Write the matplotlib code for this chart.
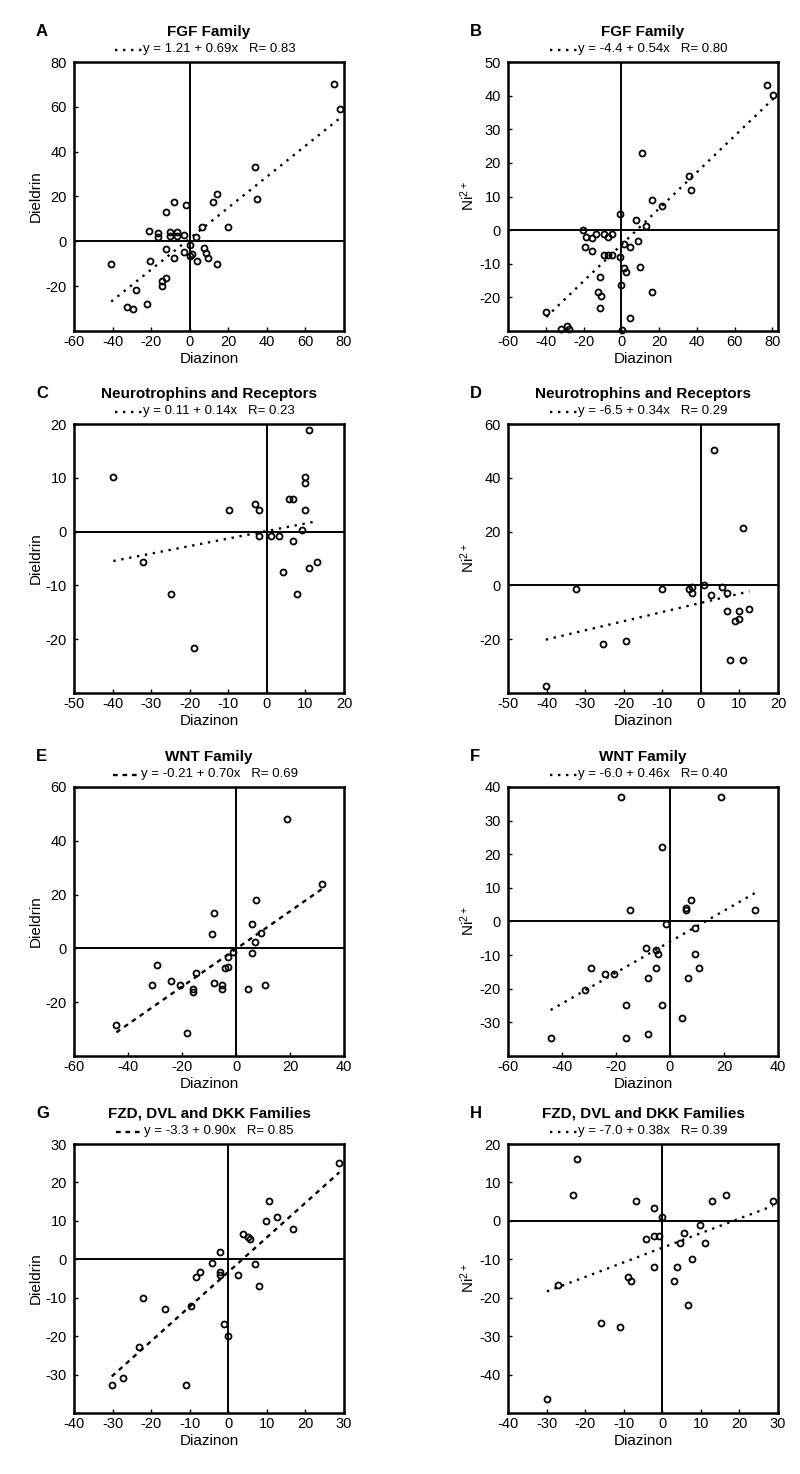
import numpy as np
import matplotlib.pyplot as plt
from matplotlib.lines import Line2D

plt.rcParams['font.family'] = ['Liberation Sans', 'DejaVu Sans']
plt.rcParams['mathtext.fontset'] = 'custom'
plt.rcParams['mathtext.rm'] = 'Liberation Sans'
plt.rcParams['mathtext.it'] = 'Liberation Sans:italic'
plt.rcParams['mathtext.default'] = 'regular'
plt.rcParams['axes.unicode_minus'] = False

# A - FGF family, dieldrin vs diazinon
a_x = [75, 78, 34, 14.3, 35, 12, -8, -12.5, -2, 20, 6.5, -21, -16.5, -16.5, -10.4, -10.4,
       -6.4, -6.4, -3, 3.4, -12.5, 0.1, 7.4, 8.3, 9.6, 1.3, 0.1, -3, -8.2, 3.6, 14.3,
       -40.7, -20.8, -12.5, -14.2, -14.5, -28, -22, -32.4, -29.3]
a_y = [70, 59, 33, 21, 19, 17.4, 17.4, 12.9, 16.3, 6.4, 6.4, 4.6, 3.9, 1.9, 4.3, 2.3,
       4.3, 2.3, 2.8, 1.9, -3.6, -1.8, -2.8, -5.4, -7.3, -5.5, -6.6, -4.6, -7.3, -8.8, -10,
       -10, -8.8, -16.3, -17.8, -20, -21.9, -27.9, -29.1, -30.1]

# B - FGF family, Ni2+ vs diazinon
b_x = [77.2, 80.6, 10.9, 35.6, 36.7, 16.2, 21.7, -0.9, 7.9, 13.2, -20.3, -18.9, -15.6,
       -13.2, -9.2, -7.1, -5.0, 8.8, 4.4, 1.7, -19, -15.6, -9.2, -7.1, -5.0, -0.9, 9.7,
       1.7, 2.6, -11.5, -12.4, -10.6, -11.5, -0.4, 16.2, -39.7, 4.4, -31.7, -28.6, -27.7, 0.5]
b_y = [43.1, 40.1, 22.9, 16.2, 11.9, 9.0, 7.3, 4.8, 3.0, 1.1, 0, -1.9, -2.2,
       -1.2, -1.2, -2.0, -1.3, -3.2, -5.0, -4.2, -5.0, -6.2, -7.4, -7.4, -7.4, -8.0, -11,
       -11.2, -12.4, -13.9, -18.3, -19.5, -23.1, -16.4, -18.3, -24.3, -26.1, -29.3, -28.6, -29.3, -29.6]

# C - neurotrophins and receptors, dieldrin vs diazinon
c_x = [11.0, -39.8, 9.9, 9.9, 5.8, 6.9, -3.1, -9.9, -2.0, 9.9, 9.1, -2.0, 1.2, 3.2,
       6.9, -32, 13.1, 11.0, 4.1, -24.9, 7.8, -19.0]
c_y = [18.9, 10.1, 10.1, 9.1, 6.1, 6.1, 5.1, 4.1, 4.1, 4.1, 0.3, -0.9, -0.9, -0.9,
       -1.8, -5.7, -5.7, -6.8, -7.6, -11.6, -11.6, -21.6]

# D - neurotrophins and receptors, Ni2+ vs diazinon
d_x = [3.5, 10.8, -32.3, -10.1, -3.2, -2.2, -2.2, 0.9, 2.6, 5.6, 6.8, 6.8, 9.8, 12.6,
       8.8, 9.8, -25.4, -19.3, 7.6, 10.8, -40.2]
d_y = [50.5, 21.3, -1.2, -1.2, -1.2, -0.6, -2.8, 0.2, -3.5, -0.6, -2.8, -9.5, -9.5, -8.9,
       -13.2, -12.4, -21.7, -20.8, -27.6, -27.6, -37.4]

# E - WNT family, dieldrin vs diazinon
e_x = [18.8, 31.7, 7.5, -8.2, 6.1, -9.0, 9.2, 6.9, 6.1, -1.1, -3.0, -29.2, -3.0, -4.1,
       -15.0, -23.9, -8.2, -5.3, -5.3, -20.9, -31.1, -16.0, -16.0, 4.6, 10.6, -44.3, -18.1]
e_y = [48.0, 24.0, 17.9, 13.0, 9.0, 5.2, 5.9, 2.2, -1.6, -1.5, -3.1, -6.2, -6.8, -7.4,
       -9.0, -12.0, -12.7, -13.6, -15.2, -13.6, -13.6, -15.2, -16.1, -15.1, -13.6, -28.6, -31.6]

# F - WNT family, Ni2+ vs diazinon
f_x = [-18.0, 18.8, -3.0, -14.9, 6.0, 6.0, 7.7, 31.6, -1.6, 9.1, -9.0, -5.3, -4.4, 9.1,
       -29.1, -5.3, 10.6, -24.0, -20.9, -8.1, 6.7, -31.6, -16.4, -3.0, 4.6, -8.1, -44.2, -16.4]
f_y = [36.9, 36.9, 22.1, 3.5, 4.0, 3.3, 6.5, 3.5, -0.7, -1.9, -7.8, -8.5, -9.6, -9.6,
       -13.9, -13.9, -13.9, -15.7, -15.7, -16.8, -16.8, -20.4, -24.7, -24.7, -28.8, -33.6, -34.6, -34.6]

# G - FZD, DVL and DKK families, dieldrin vs diazinon
g_x = [28.8, 10.6, 12.6, 9.8, 16.9, 3.7, 5.0, 5.7, -2.2, -4.2, 6.9, -7.3, -2.2, -2.2,
       2.6, -8.4, 7.9, -22.1, -9.6, -16.4, -1.2, -0.2, -23.1, -27.2, -30.2, -11.0]
g_y = [25.0, 15.1, 10.9, 9.9, 7.8, 6.7, 5.9, 5.2, 2.0, -1.0, -1.1, -3.2, -3.2, -4.1,
       -4.1, -4.7, -6.9, -10.1, -12.1, -12.9, -16.8, -20.0, -22.8, -31.0, -32.8, -32.8]

# H - FZD, DVL and DKK families, Ni2+ vs diazinon
h_x = [-22.0, -23.1, -6.9, -2.1, 0, 13.0, 16.6, 28.7, 9.9, 5.7, -2.1, -0.9, -4.3, 4.5,
       11.0, 7.7, -2.1, 3.8, -9.0, -8.0, 3.1, -27.0, 6.7, -16.0, -11.0, -29.9]
h_y = [16.0, 6.8, 5.2, 3.3, 1.1, 5.2, 6.8, 5.2, -1.0, -3.1, -3.9, -3.9, -4.6, -5.8,
       -5.8, -9.9, -11.9, -11.9, -14.5, -15.6, -15.6, -16.7, -21.9, -26.6, -27.6, -46.4]

letters = ['A', 'B', 'C', 'D', 'E', 'F', 'G', 'H']
titles = ['FGF Family', 'FGF Family',
          'Neurotrophins and Receptors', 'Neurotrophins and Receptors',
          'WNT Family', 'WNT Family',
          'FZD, DVL and DKK Families', 'FZD, DVL and DKK Families']
intercepts = [1.21, -4.4, 0.11, -6.5, -0.21, -6.0, -3.3, -7.0]
slopes = [0.69, 0.54, 0.14, 0.34, 0.70, 0.46, 0.90, 0.38]
eq_texts = ['y = 1.21 + 0.69x   R= 0.83', 'y = -4.4 + 0.54x   R= 0.80',
            'y = 0.11 + 0.14x   R= 0.23', 'y = -6.5 + 0.34x   R= 0.29',
            'y = -0.21 + 0.70x   R= 0.69', 'y = -6.0 + 0.46x   R= 0.40',
            'y = -3.3 + 0.90x   R= 0.85', 'y = -7.0 + 0.38x   R= 0.39']
ylabels = ['Dieldrin', 'Ni$^{2+}$'] * 4
xlims = [(-60, 80), (-60, 83), (-50, 20), (-50, 20),
         (-60, 40), (-60, 40), (-40, 30), (-40, 30)]
ylims = [(-40, 80), (-30, 50), (-30, 20), (-40, 60),
         (-40, 60), (-40, 40), (-40, 30), (-50, 20)]
xticks = [range(-60, 81, 20), range(-60, 81, 20), range(-50, 21, 10), range(-50, 21, 10),
          range(-60, 41, 20), range(-60, 41, 20), range(-40, 31, 10), range(-40, 31, 10)]
yticks = [range(-20, 81, 20), range(-20, 51, 10), range(-20, 21, 10), range(-20, 61, 20),
          range(-20, 61, 20), range(-30, 41, 10), range(-30, 31, 10), range(-40, 21, 10)]
fit_styles = ['dot', 'dot', 'dot', 'dot', 'dash', 'dot', 'dash', 'dot']

xs = [a_x, b_x, c_x, d_x, e_x, f_x, g_x, h_x]
ys = [a_y, b_y, c_y, d_y, e_y, f_y, g_y, h_y]

W, H = 800, 1474
fig = plt.figure(figsize=(W / 100, H / 100), dpi=100)
col_left = [74, 508]
row_top = [62, 424, 787, 1144]
aw, ah = 270, 269

eqs = []
for i in range(8):
    r, c = divmod(i, 2)
    ax = fig.add_axes([col_left[c] / W, 1 - (row_top[r] + ah) / H, aw / W, ah / H])
    x = np.array(xs[i])
    y = np.array(ys[i])

    ax.axhline(0, color='black', lw=1.4, zorder=1)
    ax.axvline(0, color='black', lw=1.4, zorder=1)

    # regression line over the data range
    xf = np.array([x.min(), x.max()])
    yf = intercepts[i] + slopes[i] * xf
    ls = (0, (1, 2.4)) if fit_styles[i] == 'dot' else (0, (2, 2.0))
    ax.plot(xf, yf, color='black', lw=1.7, linestyle=ls, zorder=2)

    ax.plot(x, y, 'o', ms=4.3, mfc='none', mec='black', mew=1.3, zorder=3, clip_on=False)

    ax.set_xlim(*xlims[i])
    ax.set_ylim(*ylims[i])
    ax.set_xticks(list(xticks[i]))
    ax.set_yticks(list(yticks[i]))
    ax.tick_params(direction='in', length=3, width=1, labelsize=10.5, colors='black')
    ax.tick_params(axis='x', pad=3)
    ax.tick_params(axis='y', pad=5)
    for s in ax.spines.values():
        s.set_linewidth(1.8)

    ax.set_xlabel('Diazinon', fontsize=11)
    ax.set_ylabel(ylabels[i], fontsize=11)
    ax.xaxis.set_label_coords(0.5, -21 / ah)
    ax.yaxis.set_label_coords(-31 / aw, 0.5)

    ax.text(-38 / aw, 1 + 30 / ah, letters[i], transform=ax.transAxes,
            fontsize=12, fontweight='bold', ha='left', va='center')
    ax.text(0.5, 1 + 30 / ah, titles[i], transform=ax.transAxes,
            fontsize=11, fontweight='bold', ha='center', va='center')
    t = ax.text(0.5 + 10 / aw, 1 + 13 / ah, eq_texts[i], transform=ax.transAxes,
                fontsize=9.5, ha='center', va='center')
    eqs.append((t, ls))

# legend sample line drawn just left of each equation
fig.canvas.draw()
rend = fig.canvas.get_renderer()
for t, ls in eqs:
    bb = t.get_window_extent(rend)
    yl = bb.y0 + 0.4 * (bb.y1 - bb.y0)
    fig.add_artist(Line2D([(bb.x0 - 28) / W, (bb.x0 - 1) / W], [yl / H, yl / H],
                          color='black', lw=1.7, linestyle=ls))

fig.savefig('out.png', dpi=100)
